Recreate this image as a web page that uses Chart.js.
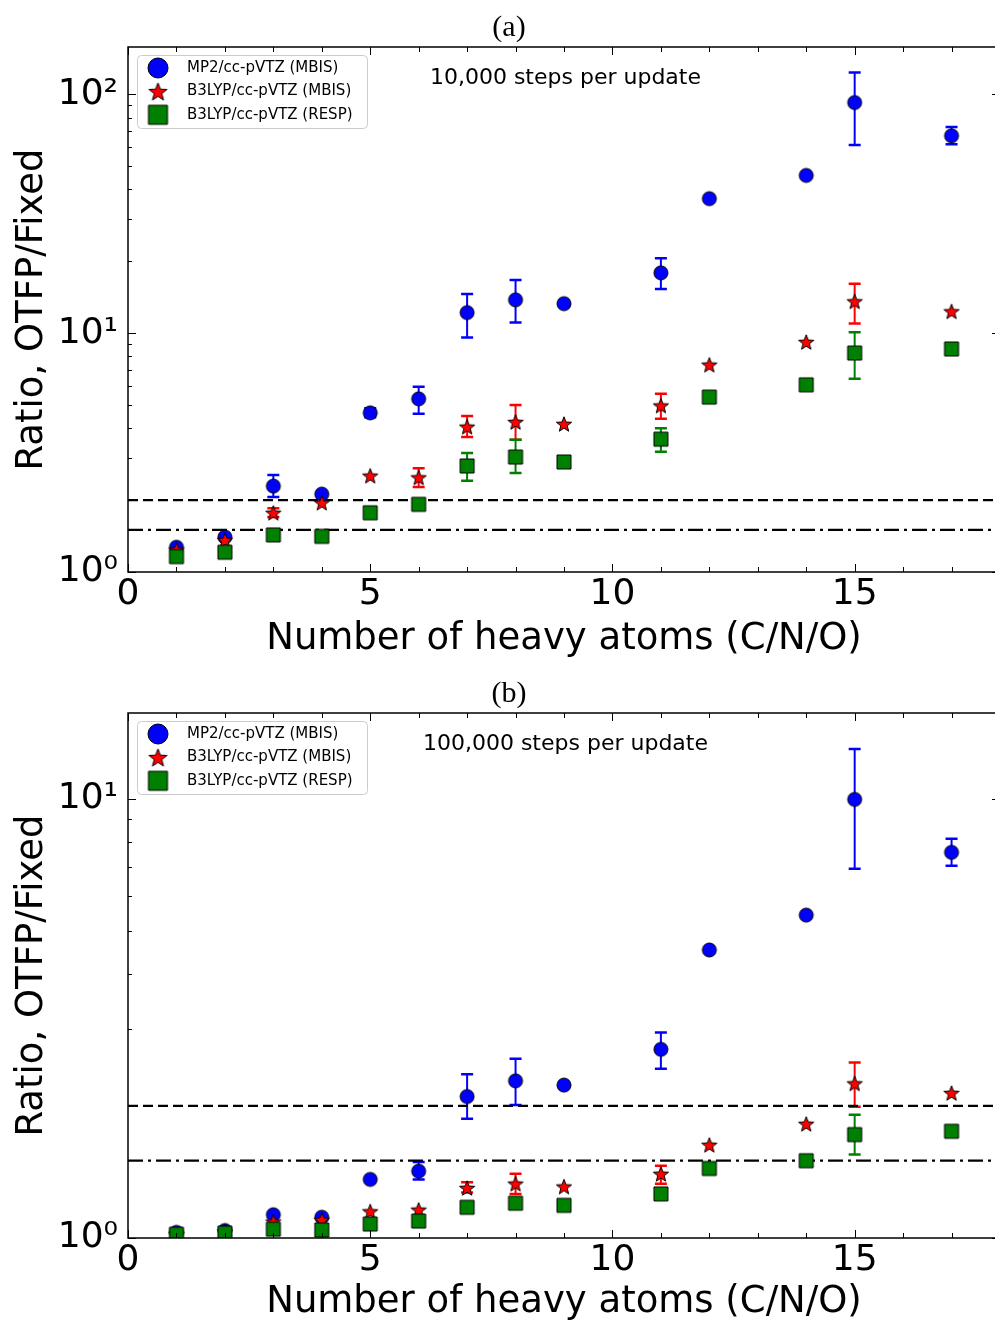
<!DOCTYPE html>
<html>
<head>
<meta charset="utf-8">
<title>Ratio OTFP/Fixed vs number of heavy atoms</title>
<script src="https://cdn.jsdelivr.net/npm/chart.js@4.4.0/dist/chart.umd.min.js"></script>
<style>
  html, body { margin: 0; padding: 0; background: #fff; overflow: hidden; }
  #wrap { width: 1005px; }
  canvas { display: block; }
</style>
</head>
<body>
<div id="wrap">
  <canvas id="chartA" width="1005" height="660"></canvas>
  <canvas id="chartB" width="1005" height="661"></canvas>
</div>
<script>
// Number of heavy atoms (C/N/O) for each molecule
const atoms = [1, 2, 3, 4, 5, 6, 7, 8, 9, 11, 12, 14, 15, 17];
const seriesNames = ['MP2/cc-pVTZ (MBIS)', 'B3LYP/cc-pVTZ (MBIS)', 'B3LYP/cc-pVTZ (RESP)'];
const xTickLabels = ['0', '5', '10', '15'];
const yTickLabels = ['10\u2070', '10\u00b9', '10\u00b2'];
const refLines = [2.0, 1.5]; // dashed, dash-dot

// (a) 10,000 steps per update
const mp2A     = [1.27, 1.40, 2.29, 2.12, 4.64, 5.31, 12.2, 13.8, 13.3, 17.9, 36.6, 45.8, 92.5, 67.1];
const mp2A_lo  = [null, null, 2.06, null, 4.45, 4.60, 9.6, 11.1, null, 15.3, null, null, 61.4, 61.8];
const mp2A_hi  = [null, null, 2.55, null, 4.85, 5.97, 14.6, 16.7, null, 20.6, null, null, 123.5, 73.0];
const mbisA    = [1.24, 1.36, 1.77, 1.95, 2.53, 2.49, 4.06, 4.25, 4.17, 4.98, 7.38, 9.19, 13.6, 12.35];
const mbisA_lo = [null, null, 1.70, null, null, 2.27, 3.68, 3.58, null, 4.38, null, null, 10.97, null];
const mbisA_hi = [null, null, 1.85, null, null, 2.72, 4.50, 5.00, null, 5.58, null, null, 16.1, null];
const respA    = [1.16, 1.21, 1.43, 1.41, 1.77, 1.92, 2.78, 3.03, 2.89, 3.60, 5.40, 6.08, 8.26, 8.59];
const respA_lo = [null, null, null, null, null, 1.85, 2.41, 2.60, null, 3.19, null, null, 6.45, null];
const respA_hi = [null, null, null, null, null, 1.99, 3.15, 3.58, null, 4.00, null, null, 10.1, null];

// (b) 100,000 steps per update
const mp2B     = [1.03, 1.04, 1.13, 1.115, 1.36, 1.42, 2.10, 2.28, 2.23, 2.69, 4.53, 5.44, 9.98, 7.56];
const mp2B_lo  = [null, null, null, null, null, 1.36, 1.87, 2.01, null, 2.43, null, null, 6.94, 7.05];
const mp2B_hi  = [null, null, null, null, null, 1.49, 2.36, 2.56, null, 2.94, null, null, 13.0, 8.12];
const mbisB    = [1.02, 1.035, 1.09, 1.10, 1.15, 1.16, 1.30, 1.33, 1.31, 1.40, 1.63, 1.82, 2.25, 2.14];
const mbisB_lo = [null, null, null, null, null, null, 1.27, 1.26, null, 1.33, null, null, 1.99, null];
const mbisB_hi = [null, null, null, null, null, null, 1.34, 1.40, null, 1.46, null, null, 2.51, null];
const respB    = [1.02, 1.026, 1.047, 1.043, 1.076, 1.093, 1.175, 1.20, 1.187, 1.26, 1.44, 1.50, 1.72, 1.75];
const respB_lo = [null, null, null, null, null, null, null, null, null, null, null, null, 1.55, null];
const respB_hi = [null, null, null, null, null, null, null, null, null, null, null, null, 1.91, null];

const colors = ['#0000ff', '#ff0000', '#008000'];

Chart.defaults.font.family = 'DejaVu Sans';
Chart.defaults.color = '#000';

// marker images (matplotlib style: filled, thin black edge)
function makeMarker(shape, size, fill) {
    const c = document.createElement('canvas');
    c.width = c.height = size + 4;
    const g = c.getContext('2d');
    const m = c.width / 2, r = size / 2;
    g.beginPath();
    if (shape === 'circle') {
        g.arc(m, m, r, 0, Math.PI * 2);
    } else if (shape === 'square') {
        g.rect(m - r, m - r, size, size);
    } else {
        for (let i = 0; i < 10; i++) {
            const rad = i % 2 ? r * 0.42 : r;
            const ang = -Math.PI / 2 + i * Math.PI / 5;
            g.lineTo(m + rad * Math.cos(ang), m + rad * Math.sin(ang) + r * 0.1);
        }
        g.closePath();
    }
    g.fillStyle = fill;
    g.fill();
    g.lineWidth = 1;
    g.strokeStyle = '#000';
    g.stroke();
    return c;
}

const dataMarkers = [makeMarker('circle', 14, colors[0]), makeMarker('star', 16, colors[1]), makeMarker('square', 14, colors[2])];
const legendMarkers = [makeMarker('circle', 20, colors[0]), makeMarker('star', 19, colors[1]), makeMarker('square', 19, colors[2])];

function isDecade(v) {
    const e = Math.log10(v);
    return Math.abs(e - Math.round(e)) < 1e-9;
}

// error bars, drawn under the markers
const errorBars = {
    id: 'errorBars',
    beforeDatasetsDraw(chart) {
        const { ctx, scales: { x, y } } = chart;
        ctx.save();
        chart.data.datasets.forEach((ds) => {
            if (!ds.errLow) return;
            ctx.strokeStyle = ds.errColor;
            ds.data.forEach((p, i) => {
                const lo = ds.errLow[i], hi = ds.errHigh[i];
                if (lo == null || hi == null) return;
                const px = x.getPixelForValue(p.x);
                const y0 = y.getPixelForValue(lo), y1 = y.getPixelForValue(hi);
                ctx.lineWidth = 2;
                ctx.beginPath();
                ctx.moveTo(px, y0); ctx.lineTo(px, y1);
                ctx.stroke();
                ctx.lineWidth = 2.5;
                ctx.beginPath();
                ctx.moveTo(px - 6, y0); ctx.lineTo(px + 6, y0);
                ctx.moveTo(px - 6, y1); ctx.lineTo(px + 6, y1);
                ctx.stroke();
            });
        });
        ctx.restore();
    }
};

// axes frame with inward ticks on all four sides
const frameTicks = {
    id: 'frameTicks',
    afterDatasetsDraw(chart) {
        const { ctx, chartArea: a, scales: { x, y } } = chart;
        ctx.save();
        ctx.strokeStyle = '#000';
        ctx.lineWidth = 1;
        ctx.beginPath();
        x.ticks.forEach((t) => {
            if (!Number.isInteger(t.value)) return;
            const px = Math.round(x.getPixelForValue(t.value)) + 0.5;
            const len = t.value % 5 === 0 ? 8 : 5;
            ctx.moveTo(px, a.bottom); ctx.lineTo(px, a.bottom - len);
            ctx.moveTo(px, a.top); ctx.lineTo(px, a.top + len);
        });
        y.ticks.forEach((t) => {
            const exp = Math.floor(Math.log10(t.value) + 1e-9);
            const mant = t.value / Math.pow(10, exp);
            if (Math.abs(mant - Math.round(mant)) > 1e-6) return;
            const len = isDecade(t.value) ? 8 : 4;
            const py = Math.round(y.getPixelForValue(t.value)) + 0.5;
            ctx.moveTo(a.left, py); ctx.lineTo(a.left + len, py);
            ctx.moveTo(a.right, py); ctx.lineTo(a.right - len, py);
        });
        ctx.stroke();
        ctx.lineWidth = 1.5;
        ctx.strokeRect(a.left, a.top, a.right - a.left, a.bottom - a.top);
        ctx.restore();
    }
};

// legend box (top left inside the axes) and the steps note
const legendNote = {
    id: 'legendNote',
    afterDraw(chart) {
        const { ctx, chartArea: a, scales: { x } } = chart;
        const left = a.left + 9, top = a.top + 8;
        ctx.save();
        ctx.beginPath();
        ctx.roundRect(left + 0.5, top + 0.5, 230, 73, 4);
        ctx.fillStyle = 'rgba(255,255,255,0.8)';
        ctx.fill();
        ctx.strokeStyle = '#cccccc';
        ctx.lineWidth = 1;
        ctx.stroke();
        ctx.font = '15px "DejaVu Sans"';
        ctx.fillStyle = '#000';
        ctx.textBaseline = 'middle';
        ctx.textAlign = 'left';
        seriesNames.forEach((name, i) => {
            const cy = a.top + 21 + i * 23.4;
            const img = legendMarkers[i];
            ctx.drawImage(img, left + 21 - img.width / 2, cy - img.height / 2);
            ctx.fillText(name, left + 50, cy);
        });
        ctx.font = '22px "DejaVu Sans"';
        ctx.textAlign = 'center';
        ctx.fillText(chart.options.plugins.legendNote.text, x.getPixelForValue(9.03), a.top + 31);
        ctx.restore();
    }
};

function buildChart(id, cfg) {
    const vals = [cfg.mp2, cfg.mbis, cfg.resp];
    const lows = [cfg.mp2Lo, cfg.mbisLo, cfg.respLo];
    const highs = [cfg.mp2Hi, cfg.mbisHi, cfg.respHi];
    const datasets = seriesNames.map((name, i) => ({
        type: 'scatter',
        label: name,
        data: atoms.map((n, j) => ({ x: n, y: vals[i][j] })),
        pointStyle: dataMarkers[i],
        backgroundColor: colors[i],
        borderColor: '#000',
        errLow: lows[i],
        errHigh: highs[i],
        errColor: colors[i],
        order: 3 - i
    }));
    refLines.forEach((v, k) => {
        datasets.push({
            type: 'line',
            label: 'ref' + k,
            data: [{ x: 0, y: v }, { x: 18, y: v }],
            borderColor: '#000',
            borderWidth: 2.2,
            borderDash: k === 0 ? [10, 5] : [15, 5, 3, 5],
            pointRadius: 0,
            fill: false,
            order: 10
        });
    });

    return new Chart(document.getElementById(id), {
        type: 'scatter',
        data: { datasets },
        options: {
            responsive: false,
            animation: false,
            events: [],
            layout: { padding: { left: 14, right: 1, top: 0, bottom: 0 } },
            plugins: {
                legend: { display: false },
                tooltip: { enabled: false },
                title: {
                    display: true,
                    text: cfg.title,
                    color: '#000',
                    font: { family: 'Liberation Serif', size: 30, weight: 'normal', lineHeight: 1.2 },
                    padding: { top: cfg.titleTop, bottom: 1 }
                },
                legendNote: { text: cfg.note }
            },
            scales: {
                x: {
                    type: 'linear',
                    min: 0,
                    max: 18,
                    afterFit: (s) => { s.height = cfg.xHeight; },
                    grid: { display: false, drawTicks: false },
                    border: { display: false },
                    ticks: {
                        stepSize: 1,
                        autoSkip: false,
                        maxRotation: 0,
                        padding: 1,
                        font: { size: 36 },
                        callback: (v) => (xTickLabels.includes(String(v)) ? String(v) : '')
                    },
                    title: {
                        display: true,
                        text: 'Number of heavy atoms (C/N/O)',
                        font: { size: 37, lineHeight: 1 },
                        padding: { top: 0, bottom: cfg.xTitleBottom }
                    }
                },
                y: {
                    type: 'logarithmic',
                    min: 1,
                    max: cfg.yMax,
                    afterFit: (s) => { s.width = 114; },
                    grid: { display: false, drawTicks: false },
                    border: { display: false },
                    ticks: {
                        autoSkip: false,
                        padding: 10,
                        font: { size: 36 },
                        callback: (v) => (isDecade(v) ? yTickLabels[Math.round(Math.log10(v))] : '')
                    },
                    title: {
                        display: true,
                        text: 'Ratio, OTFP/Fixed',
                        font: { size: 37, lineHeight: 1 },
                        padding: { top: 0, bottom: 0 }
                    }
                }
            }
        },
        plugins: [errorBars, frameTicks, legendNote]
    });
}

buildChart('chartA', {
    title: '(a)', note: '10,000 steps per update', yMax: 158, titleTop: 10, xHeight: 88, xTitleBottom: 2,
    mp2: mp2A, mp2Lo: mp2A_lo, mp2Hi: mp2A_hi,
    mbis: mbisA, mbisLo: mbisA_lo, mbisHi: mbisA_hi,
    resp: respA, respLo: respA_lo, respHi: respA_hi
});

buildChart('chartB', {
    title: '(b)', note: '100,000 steps per update', yMax: 15.7, titleTop: 16, xHeight: 83, xTitleBottom: 0,
    mp2: mp2B, mp2Lo: mp2B_lo, mp2Hi: mp2B_hi,
    mbis: mbisB, mbisLo: mbisB_lo, mbisHi: mbisB_hi,
    resp: respB, respLo: respB_lo, respHi: respB_hi
});
</script>
</body>
</html>
